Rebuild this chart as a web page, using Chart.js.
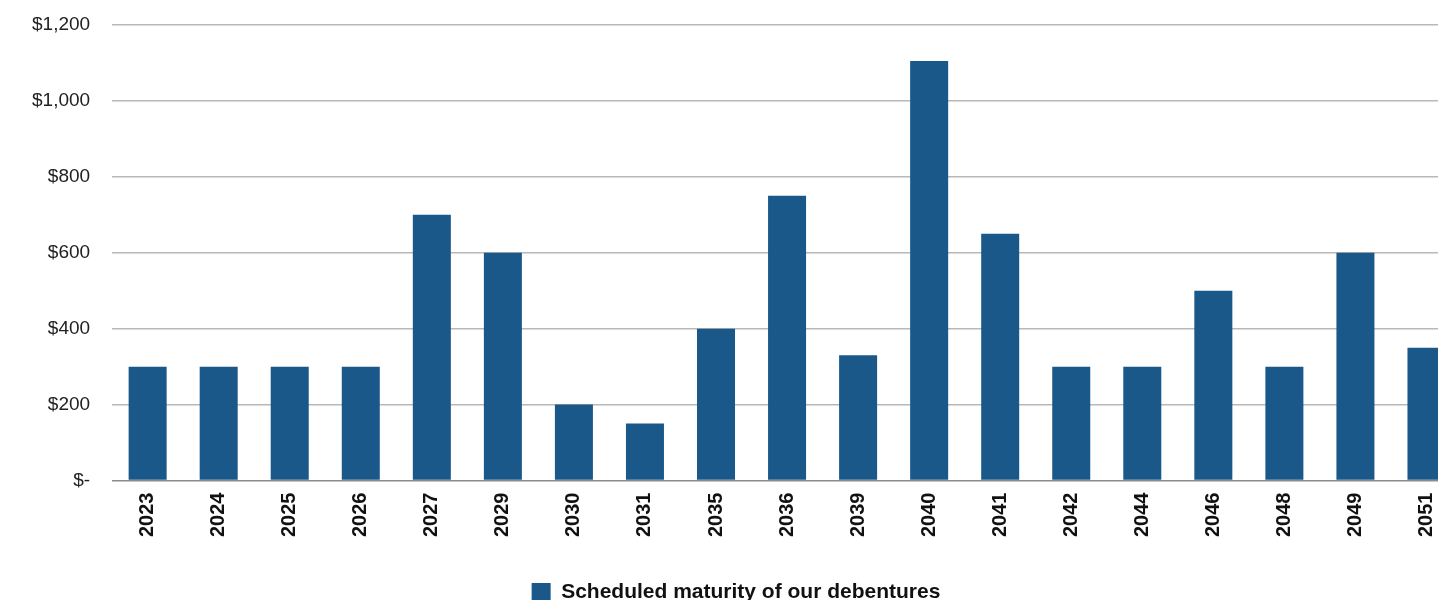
<!DOCTYPE html>
<html>
<head>
<meta charset="utf-8">
<script src="https://cdn.jsdelivr.net/npm/chart.js@4"></script>
<style>
  html, body { margin: 0; padding: 0; background: #fff; overflow: hidden; }
  #wrap { width: 1462px; height: 613px; }
</style>
</head>
<body>
<div id="wrap"><canvas id="maturityChart" width="1462" height="613"></canvas></div>
<script>
const years = ["2023", "2024", "2025", "2026", "2027", "2029", "2030", "2031", "2035", "2036",
               "2039", "2040", "2041", "2042", "2044", "2046", "2048", "2049", "2051"];
const maturities = [300, 300, 300, 300, 700, 600, 200, 150, 400, 750,
                    330, 1105, 650, 300, 300, 500, 300, 600, 350];
const yTicks = [0, 200, 400, 600, 800, 1000, 1200];
const seriesLabel = "Scheduled maturity of our debentures";

const fmtDollar = v => v === 0 ? "$-" : "$" + v.toLocaleString("en-US");

new Chart(document.getElementById("maturityChart"), {
  type: "bar",
  data: {
    labels: years,
    datasets: [{
      label: seriesLabel,
      data: maturities,
      backgroundColor: "#1a5889",
      categoryPercentage: 1,
      barPercentage: 0.535
    }]
  },
  options: {
    responsive: false,
    animation: false,
    layout: { padding: { top: 25, left: 10, right: 0, bottom: 0 } },
    plugins: {
      legend: {
        position: "bottom",
        labels: {
          color: "#111",
          boxWidth: 19,
          boxHeight: 19,
          font: { family: "Liberation Sans, Arial", size: 21, weight: "bold" }
        }
      },
      tooltip: { enabled: false }
    },
    scales: {
      x: {
        grid: { display: false },
        border: { display: false },
        afterFit: axis => { axis.height += 31; axis.paddingTop = 0; },
        ticks: {
          color: "#111",
          maxRotation: 90,
          minRotation: 90,
          padding: 4,
          font: { family: "Liberation Sans, Arial", size: 20, weight: "bold" }
        }
      },
      y: {
        min: 0,
        max: 1200,
        afterBuildTicks: axis => { axis.ticks = yTicks.map(v => ({ value: v })); },
        afterFit: axis => { axis.paddingTop = 0; },
        grid: {
          color: ctx => ctx.tick && ctx.tick.value === 0 ? "#8c8c8c" : "#b8b8b8",
          lineWidth: 1.5,
          drawTicks: false
        },
        border: { display: false },
        ticks: {
          color: "#222",
          padding: 22,
          callback: fmtDollar,
          font: { family: "Liberation Sans, Arial", size: 19 }
        }
      }
    }
  }
});
</script>
</body>
</html>
